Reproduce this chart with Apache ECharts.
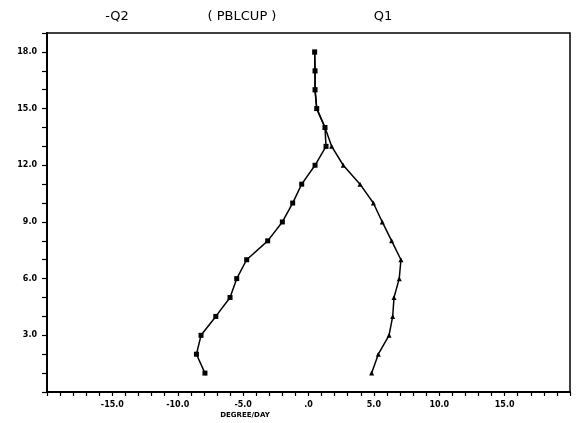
<!DOCTYPE html>
<html>
<head>
<meta charset="utf-8">
<script src="https://cdn.jsdelivr.net/npm/echarts@6/dist/echarts.min.js"></script>
<style>
html,body{margin:0;padding:0;background:#fff;}
#chart{width:579px;height:423px;}
</style>
</head>
<body>
<div id="chart"></div>
<script>
const levels = [1,2,3,4,5,6,7,8,9,10,11,12,13,14,15,16,17,18];
const negQ2 = [-7.92,-8.57,-8.22,-7.09,-6.00,-5.49,-4.73,-3.12,-2.00,-1.21,-0.52,0.50,1.34,1.26,0.63,0.50,0.50,0.47];
const q1 = [4.83,5.34,6.16,6.44,6.54,6.94,7.07,6.36,5.64,4.96,3.94,2.66,1.77,1.26,0.63,0.50,0.50,0.47];
const xTickLabels = {'-15':'-15.0','-10':'-10.0','-5':'-5.0','0':'.0','5':'5.0','10':'10.0','15':'15.0'};
const yTickLabels = {'3':'3.0','6':'6.0','9':'9.0','12':'12.0','15':'15.0','18':'18.0'};
const titles = ['-Q2','( PBLCUP )','Q1'];
const xName = 'DEGREE/DAY';

const chart = echarts.init(document.getElementById('chart'));
const tickFont = {fontFamily:'DejaVu Sans', fontWeight:'bold', fontSize:8, color:'#000'};
const titleFont = {fontFamily:'DejaVu Sans', fontWeight:'normal', fontSize:13, color:'#000'};
chart.setOption({
  animation:false,
  backgroundColor:'#fff',
  title:[
    {text:titles[0], left:112, top:5, textAlign:'center', textStyle:titleFont},
    {text:titles[1], left:237, top:5, textAlign:'center', textStyle:titleFont},
    {text:titles[2], left:378, top:5, textAlign:'center', textStyle:titleFont},
    {text:xName, left:240, top:407, textAlign:'center', textStyle:{fontFamily:'DejaVu Sans', fontWeight:'bold', fontSize:7, color:'#000'}}
  ],
  grid:{left:47, right:9, top:33, bottom:31, show:true, borderColor:'#000', borderWidth:1.5, backgroundColor:'transparent'},
  xAxis:{
    type:'value', min:-20, max:20, interval:1,
    axisLine:{show:true, onZero:false, lineStyle:{color:'#000', width:2}},
    axisTick:{show:true, inside:false, length:4, lineStyle:{color:'#000', width:1.2}},
    axisLabel:Object.assign({margin:9, showMinLabel:true, showMaxLabel:true, formatter:v=>xTickLabels[String(v)]||''}, tickFont),
    splitLine:{show:false}
  },
  yAxis:{
    type:'value', min:0, max:19, interval:1,
    axisLine:{show:true, onZero:false, lineStyle:{color:'#000', width:2}},
    axisTick:{show:true, inside:false, length:5, lineStyle:{color:'#000', width:1.2}},
    axisLabel:Object.assign({margin:10, formatter:v=>yTickLabels[String(v)]||''}, tickFont),
    splitLine:{show:false}
  },
  series:[
    {name:'-Q2', type:'line', data:levels.map((l,i)=>[negQ2[i], l]),
     symbol:'rect', symbolSize:5, itemStyle:{color:'#000'},
     lineStyle:{color:'#000', width:1.5}},
    {name:'Q1', type:'line', data:levels.map((l,i)=>[q1[i], l]),
     symbol:'triangle', symbolSize:5, itemStyle:{color:'#000'},
     lineStyle:{color:'#000', width:1.5}}
  ]
});
</script>
</body>
</html>
